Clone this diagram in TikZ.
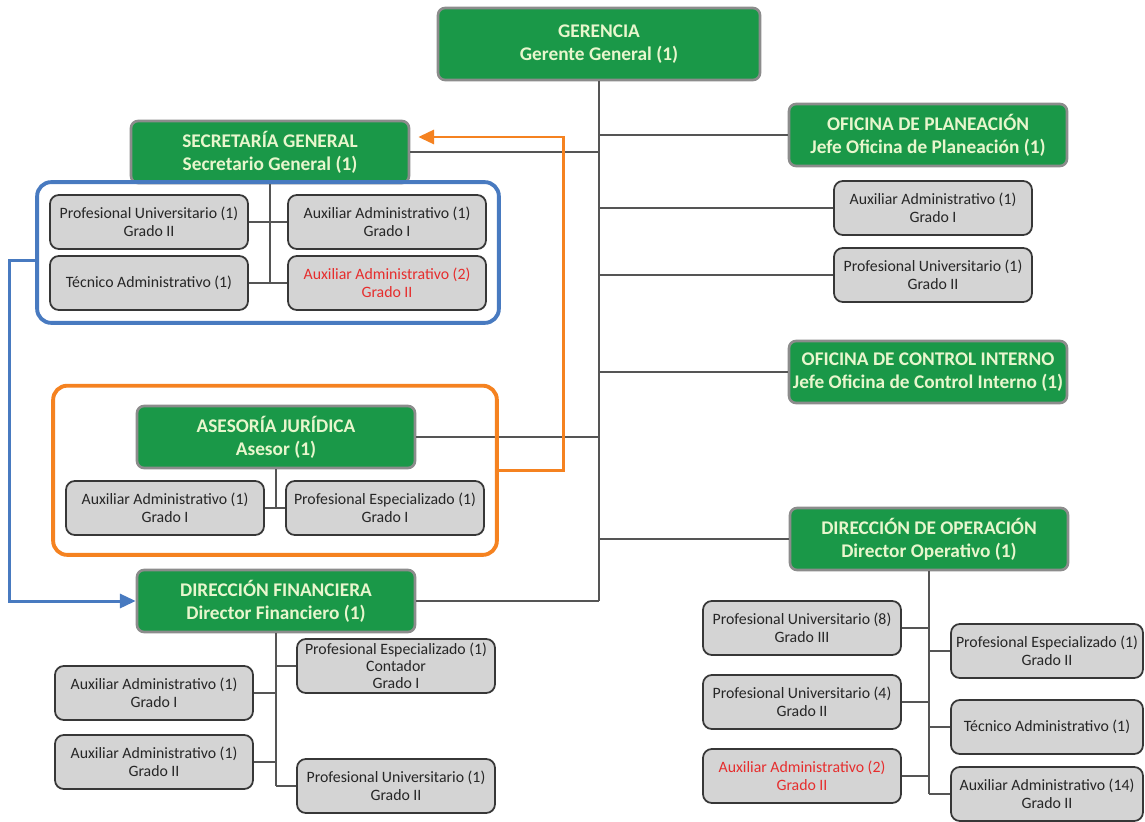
\documentclass[tikz,border=0pt]{standalone}
\usepackage{fontspec}
\setmainfont{Carlito}
\usetikzlibrary{fit,arrows.meta}

\definecolor{verde}{RGB}{26,152,72}
\definecolor{bordejefe}{RGB}{140,140,140}
\definecolor{textojefe}{RGB}{232,246,205}
\definecolor{gris}{RGB}{212,212,212}
\definecolor{bordecargo}{RGB}{55,55,55}
\definecolor{rojo}{RGB}{230,45,45}
\definecolor{linea}{RGB}{85,85,85}
\definecolor{azul}{RGB}{72,122,192}
\definecolor{naranja}{RGB}{245,130,32}

\begin{document}
\begin{tikzpicture}[x=0.02cm,y=-0.02cm,
    jefe/.style={draw=bordejefe, line width=1.5pt, fill=verde, text=textojefe,
      rounded corners=4pt, font=\bfseries\fontsize{11}{13}\selectfont, align=center,
      minimum width=5.56cm, minimum height=1.24cm, inner sep=2pt},
    cargo/.style={draw=bordecargo, line width=1pt, fill=gris, rounded corners=5pt,
      text=black!85, font=\fontsize{9}{10}\selectfont, align=center,
      minimum width=3.96cm, minimum height=1.08cm, inner sep=1pt},
    nuevo/.style={text=rojo},
    rama/.style={draw=linea, line width=1pt},
    marco/.style={rounded corners=8pt, line width=2.2pt, inner sep=0.24cm},
    flecha/.style={line width=1.7pt, -{Triangle[length=9pt,width=8pt]}}]
    \useasboundingbox[fill=white] (0,0) rectangle (1145,821);

    % direccion
    \node[jefe, minimum width=6.44cm, minimum height=1.44cm] (ger) at (599,44) {GERENCIA\\Gerente General (1)};
    \node[jefe] (sec) at (270,152) {SECRETARÍA GENERAL\\Secretario General (1)};
    \node[jefe] (pla) at (928,135) {OFICINA DE PLANEACIÓN\\Jefe Oficina de Planeación (1)};
    \node[cargo] (pla1) at (933,208) {Auxiliar Administrativo (1)\\Grado I};
    \node[cargo] (pla2) at (933,275) {Profesional Universitario (1)\\Grado II};
    \node[jefe] (con) at (928,372) {OFICINA DE CONTROL INTERNO\\Jefe Oficina de Control Interno (1)};
    \node[jefe] (ase) at (276,437) {ASESORÍA JURÍDICA\\Asesor (1)};
    \node[jefe] (ope) at (929,539) {DIRECCIÓN DE OPERACIÓN\\Director Operativo (1)};
    \node[jefe] (fin) at (276,601) {DIRECCIÓN FINANCIERA\\Director Financiero (1)};

    % secretaria general
    \node[cargo] (sec1) at (149,222) {Profesional Universitario (1)\\Grado II};
    \node[cargo] (sec2) at (387,222) {Auxiliar Administrativo (1)\\Grado I};
    \node[cargo] (sec3) at (149,283) {Técnico Administrativo (1)};
    \node[cargo, nuevo] (sec4) at (387,283) {Auxiliar Administrativo (2)\\Grado II};

    % asesoria juridica
    \node[cargo] (ase1) at (165,508) {Auxiliar Administrativo (1)\\Grado I};
    \node[cargo] (ase2) at (385,508) {Profesional Especializado (1)\\Grado I};

    % direccion financiera
    \node[cargo, font=\fontsize{9}{9.6}\selectfont] (fin1) at (396,666) {Profesional Especializado (1)\\Contador\\Grado I};
    \node[cargo] (fin2) at (154,693) {Auxiliar Administrativo (1)\\Grado I};
    \node[cargo] (fin3) at (154,762) {Auxiliar Administrativo (1)\\Grado II};
    \node[cargo] (fin4) at (396,786) {Profesional Universitario (1)\\Grado II};

    % direccion de operacion
    \node[cargo] (ope1) at (802,628) {Profesional Universitario (8)\\Grado III};
    \node[cargo] (ope2) at (802,702) {Profesional Universitario (4)\\Grado II};
    \node[cargo, nuevo] (ope3) at (802,776) {Auxiliar Administrativo (2)\\Grado II};
    \node[cargo, minimum width=3.84cm] (ope4) at (1047,651) {Profesional Especializado (1)\\Grado II};
    \node[cargo, minimum width=3.84cm] (ope5) at (1047,727) {Técnico Administrativo (1)};
    \node[cargo, minimum width=3.84cm] (ope6) at (1047,794) {Auxiliar Administrativo (14)\\Grado II};

    % lineas
    \draw[rama] (ger.south) -- (ger.south |- fin.east);
    \foreach \n in {sec,ase,fin}
        \draw[rama] (\n.east) -- (\n.east -| ger.south);
    \foreach \n in {pla,pla1,pla2,con,ope}
        \draw[rama] (\n.west) -- (\n.west -| ger.south);
    \draw[rama] (sec.south) -- (sec.south |- sec3.east);
    \draw[rama] (sec1.east) -- (sec2.west);
    \draw[rama] (sec3.east) -- (sec4.west);
    \draw[rama] (ase.south) -- (ase.south |- ase1.east);
    \draw[rama] (ase1.east) -- (ase2.west);
    \draw[rama] (fin.south) -- (fin.south |- fin4.west);
    \foreach \n in {fin1,fin4}
        \draw[rama] (\n.west) -- (\n.west -| fin.south);
    \foreach \n in {fin2,fin3}
        \draw[rama] (\n.east) -- (\n.east -| fin.south);
    \draw[rama] (ope.south) -- (ope.south |- ope6.west);
    \foreach \n in {ope1,ope2,ope3}
        \draw[rama] (\n.east) -- (\n.east -| ope.south);
    \foreach \n in {ope4,ope5,ope6}
        \draw[rama] (\n.west) -- (\n.west -| ope.south);

    % marcos y flechas
    \node[marco, draw=azul, fit=(sec1)(sec2)(sec3)(sec4)] (marcoazul) {};
    \node[marco, draw=naranja, fit=(ase)(ase1)(ase2), inner ysep=0.38cm] (marconaranja) {};
    \draw[flecha, azul] ([yshift=-0.16cm]marcoazul.west) -- ++(-26,0) |- (fin.west);
    \draw[flecha, naranja] (marconaranja.east) -- ++(65,0) |- ([xshift=0.16cm,yshift=0.3cm]sec.east);
\end{tikzpicture}
\end{document}
